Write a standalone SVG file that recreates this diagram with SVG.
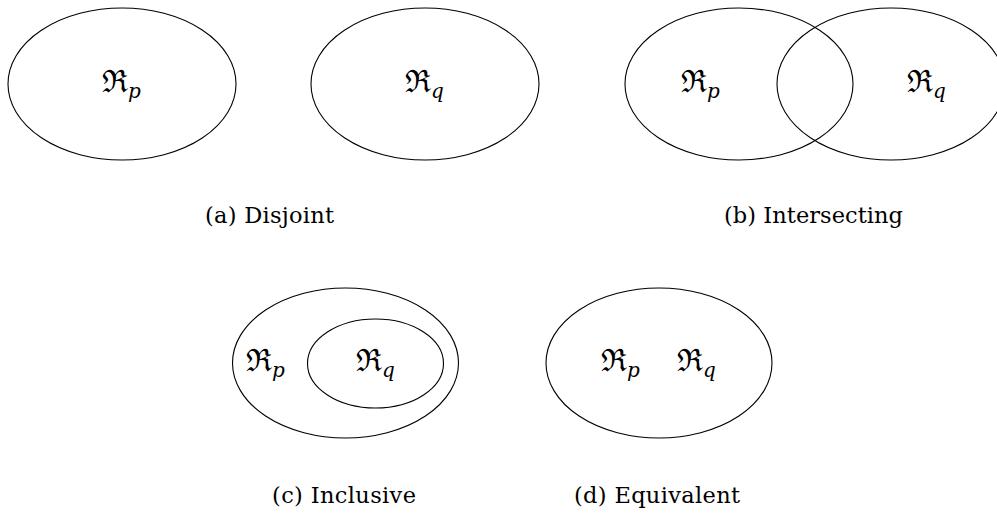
<svg xmlns="http://www.w3.org/2000/svg" width="997" height="513" viewBox="0 0 997 513">
<style>
.set{fill:none;stroke:#000;stroke-width:1.1}
.re{font-family:"DejaVu Serif","Noto Sans",serif;font-size:31px;fill:#000}
.sub{font-family:"DejaVu Serif","Liberation Serif",serif;font-style:italic;font-size:20px}
.cap{font-family:"DejaVu Serif","Liberation Serif",serif;font-size:22.5px;fill:#000;text-anchor:middle}
</style>
<rect width="997" height="513" fill="#fff"/>
<g id="a-disjoint">
  <g id="a-p"><ellipse class="set" cx="122" cy="84" rx="114" ry="76"/>
    <text class="re" x="102" y="92">ℜ</text><text class="re sub" x="128" y="98">p</text></g>
  <g id="a-q"><ellipse class="set" cx="425" cy="84" rx="114" ry="76"/>
    <text class="re" x="405" y="92">ℜ</text><text class="re sub" x="431" y="98">q</text></g>
  <text class="cap" x="269.5" y="223" textLength="129" lengthAdjust="spacing">(a) Disjoint</text>
</g>
<g id="b-intersecting">
  <g id="b-p"><ellipse class="set" cx="739" cy="84" rx="114" ry="76"/>
    <text class="re" x="681" y="92">ℜ</text><text class="re sub" x="707" y="98">p</text></g>
  <g id="b-q"><ellipse class="set" cx="891" cy="84" rx="114" ry="76"/>
    <text class="re" x="907" y="92">ℜ</text><text class="re sub" x="933" y="98">q</text></g>
  <text class="cap" x="813.5" y="223" textLength="179" lengthAdjust="spacing">(b) Intersecting</text>
</g>
<g id="c-inclusive">
  <g id="c-p"><ellipse class="set" cx="345.5" cy="363" rx="113" ry="75"/>
    <text class="re" x="246" y="371">ℜ</text><text class="re sub" x="272" y="377">p</text></g>
  <g id="c-q"><ellipse class="set" cx="375.5" cy="363.5" rx="68" ry="44.5"/>
    <text class="re" x="356" y="371">ℜ</text><text class="re sub" x="382" y="377">q</text></g>
  <text class="cap" x="344" y="503" textLength="144" lengthAdjust="spacing">(c) Inclusive</text>
</g>
<g id="d-equivalent">
  <g id="d-pq"><ellipse class="set" cx="659" cy="363" rx="113" ry="75"/>
    <text class="re" x="601" y="371">ℜ</text><text class="re sub" x="627" y="377">p</text>
    <text class="re" x="677" y="371">ℜ</text><text class="re sub" x="703" y="377">q</text></g>
  <text class="cap" x="657" y="503" textLength="166" lengthAdjust="spacing">(d) Equivalent</text>
</g>
<g id="connectors"/>
</svg>
